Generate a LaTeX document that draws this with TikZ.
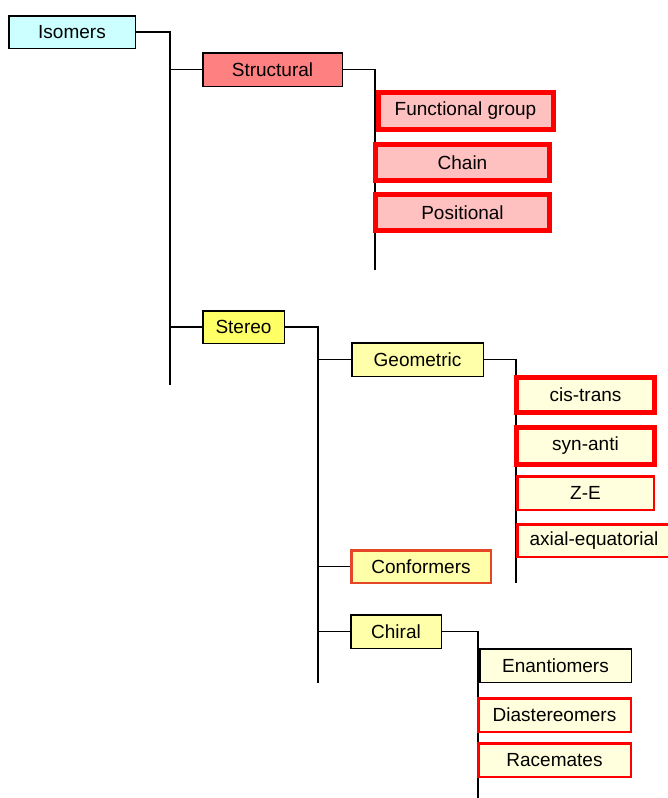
\documentclass[tikz,border=0pt]{standalone}
\usepackage{fontspec}
\setmainfont{Liberation Sans}
\usetikzlibrary{backgrounds}
\definecolor{isocyan}{RGB}{204,255,255}
\definecolor{structred}{RGB}{255,128,128}
\definecolor{structpink}{RGB}{255,192,192}
\definecolor{stereoyellow}{RGB}{255,255,102}
\definecolor{subyellow}{RGB}{255,255,170}
\definecolor{leafcream}{RGB}{255,255,221}
\definecolor{confborder}{RGB}{230,70,40}
\begin{document}
\begin{tikzpicture}[x=1pt,y=-1pt,
		box/.style={draw=black,line width=1.5pt,inner sep=0pt,font=\fontsize{19}{20}\selectfont},
		boldred/.style={box,draw=red,line width=5pt},
		thinred/.style={box,draw=red,line width=2.5pt},
		link/.style={line width=1.5pt}]
		\useasboundingbox (0,0) rectangle (667,798);
		
		% top levels
		\node[box,fill=isocyan,minimum width=126.5pt,minimum height=32.5pt] (isomers) at (72,32) {Isomers};
		\node[box,fill=structred,minimum width=139.5pt,minimum height=33.5pt] (structural) at (272.5,69.5) {Structural};
		\node[box,fill=stereoyellow,minimum width=81.5pt,minimum height=32.5pt] (stereo) at (243.5,327) {Stereo};
		
		% structural kinds
		\node[boldred,fill=structpink,minimum width=175pt,minimum height=37pt] (functional) at (465.5,111) {Functional group};
		\node[boldred,fill=structpink,minimum width=174pt,minimum height=36pt] (chain) at (462.5,162.5) {Chain};
		\node[boldred,fill=structpink,minimum width=174pt,minimum height=36pt] (positional) at (462.5,212.5) {Positional};
		
		% stereo kinds
		\node[box,fill=subyellow,minimum width=131.5pt,minimum height=33.5pt] (geometric) at (417.5,359.5) {Geometric};
		\node[thinred,draw=confborder,fill=subyellow,minimum width=139.5pt,minimum height=32.5pt] (conformers) at (421,566.5) {Conformers};
		\node[box,fill=subyellow,minimum width=90.5pt,minimum height=33.5pt] (chiral) at (396,631.5) {Chiral};
		
		% geometric kinds
		\node[boldred,fill=leafcream,minimum width=138pt,minimum height=35pt] (cistrans) at (585.5,395) {cis-trans};
		\node[boldred,fill=leafcream,minimum width=138pt,minimum height=37pt] (synanti) at (585.5,446) {syn-anti};
		\node[thinred,fill=leafcream,minimum width=136.5pt,minimum height=33.5pt] (ze) at (585.5,493) {Z-E};
		\node[thinred,fill=leafcream,minimum width=153.5pt,minimum height=32.5pt] (axial) at (594,540.5) {axial-equatorial};
		
		% chiral kinds
		\node[box,fill=leafcream,minimum width=151.5pt,minimum height=33.5pt] (enantiomers) at (555.5,665.5) {Enantiomers};
		\node[thinred,fill=leafcream,minimum width=152.5pt,minimum height=33.5pt] (diastereomers) at (554.5,715) {Diastereomers};
		\node[thinred,fill=leafcream,minimum width=152.5pt,minimum height=33.5pt] (racemates) at (554.5,760) {Racemates};
		
		\begin{scope}[on background layer]
			\coordinate (isoBus) at (170,385);
			\coordinate (structBus) at (375,270);
			\coordinate (stereoBus) at (318,683);
			\coordinate (geomBus) at (516,583);
			\coordinate (chiralBus) at (478,798);
			\draw[link] (isomers.east) -| (isoBus);
			\draw[link] (structural.west) -- (structural.west -| isoBus);
			\draw[link] (stereo.west) -- (stereo.west -| isoBus);
			\draw[link] (structural.east) -| (structBus);
			\draw[link] (stereo.east) -| (stereoBus);
			\foreach \n in {geometric,conformers,chiral}{
				\draw[link] (\n.west) -- (\n.west -| stereoBus);
			}
			\draw[link] (geometric.east) -| (geomBus);
			\draw[link] (chiral.east) -| (chiralBus);
		\end{scope}
\end{tikzpicture}
\end{document}
